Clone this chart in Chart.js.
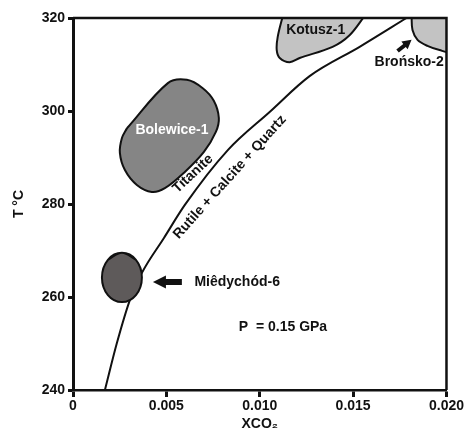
<!DOCTYPE html>
<html>
<head>
<meta charset="utf-8">
<script src="https://cdn.jsdelivr.net/npm/chart.js@4.4.0/dist/chart.umd.min.js"></script>
<style>
html, body { margin: 0; padding: 0; background: #fff; }
</style>
</head>
<body>
<canvas id="PhaseChart" width="465" height="435"></canvas>
<script>
// axis ticks
var xTicks = [0, 0.005, 0.010, 0.015, 0.020];
var xTickLabels = ['0', '0.005', '0.010', '0.015', '0.020'];
var tTicks = [240, 260, 280, 300, 320];

// reaction curve  Titanite = Rutile + Calcite + Quartz
var curveX = [0.00171, 0.00235, 0.00305, 0.00369, 0.00487, 0.00599, 0.00829, 0.01053, 0.01267, 0.01535, 0.01786];
var curveT = [240, 250.1, 259.4, 265.2, 272.7, 279.8, 291.6, 299.8, 307.5, 313.8, 320];

// sample fields
var bolewiceX = [0.00289, 0.00508, 0.00610, 0.00695, 0.00754, 0.00781, 0.00765, 0.00701, 0.00599, 0.00492, 0.00422, 0.00342, 0.00278, 0.00251, 0.00262, 0.00289];
var bolewiceT = [296.3, 306.0, 306.7, 304.9, 302.2, 298.5, 295.5, 291.2, 286.9, 283.4, 282.6, 284.1, 287.3, 291.0, 294.2, 296.3];

var kotuszX = [0.01123, 0.01096, 0.01091, 0.01107, 0.01160, 0.01214, 0.01390, 0.01481, 0.01561];
var kotuszT = [320.4, 315.9, 313.1, 311.4, 310.5, 311.4, 313.8, 316.3, 320.4];

var bronskoX = [0.01813, 0.01818, 0.01845, 0.01898, 0.01963, 0.02011, 0.02011];
var bronskoT = [320.4, 317.4, 315.3, 314.0, 313.1, 312.9, 320.4];

// outline goes round once, with one point of overlap at each end so the join is smooth
var miedychodX = [0.00187, 0.00262, 0.00337, 0.00369, 0.00337, 0.00262, 0.00187, 0.00155, 0.00187, 0.00262, 0.00337];
var miedychodT = [268.0, 269.5, 268.0, 264.2, 260.4, 258.9, 260.4, 264.2, 268.0, 269.5, 268.0];

// labels: text, x, T, colour, align, rotation (deg)
var labels = [
    ['Kotusz-1', 0.0130, 317.4, '#111', 'center', 0],
    ['Brońsko-2', 0.0180, 310.5, '#111', 'center', 0],
    ['Bolewice-1', 0.0053, 295.9, '#fff', 'center', 0],
    ['Miêdychód-6', 0.0065, 263.2, '#111', 'left', 0],
    ['P  = 0.15 GPa', 0.00888, 253.5, '#111', 'left', 0],
    ['Titanite', 0.00642, 286.5, '#111', 'center', -43],
    ['Rutile + Calcite + Quartz', 0.0084, 285.8, '#111', 'center', -48]
];

// arrows: tail x, tail T, tip x, tip T, shaft half width, head half width, head length
var arrows = [
    [0.00583, 263.2, 0.00428, 263.2, 3, 6.5, 13],
    [0.01738, 312.9, 0.01813, 315.3, 2, 5, 9]
];

var FONT = '"Liberation Sans", Arial, sans-serif';

function pts(xs, ys) {
    return xs.map(function (x, i) { return { x: x, y: ys[i] }; });
}

function field(data, colour, tension) {
    return {
        data: data,
        showLine: true,
        fill: 'shape',
        backgroundColor: colour,
        borderColor: '#111',
        borderWidth: 2,
        pointRadius: 0,
        tension: tension,
        clip: 0
    };
}

var annotate = {
    id: 'annotate',
    afterDatasetsDraw: function (chart) {
        var ctx = chart.ctx;
        var sx = chart.scales.x, sy = chart.scales.y;
        var a = chart.chartArea;

        // frame top and right
        ctx.save();
        ctx.strokeStyle = '#111';
        ctx.lineWidth = 2.5;
        ctx.beginPath();
        ctx.moveTo(a.left, a.top);
        ctx.lineTo(a.right, a.top);
        ctx.lineTo(a.right, a.bottom);
        ctx.stroke();
        ctx.restore();

        labels.forEach(function (l) {
            ctx.save();
            ctx.font = 'bold 14px ' + FONT;
            ctx.fillStyle = l[3];
            ctx.textAlign = l[4];
            ctx.textBaseline = 'middle';
            ctx.translate(sx.getPixelForValue(l[1]), sy.getPixelForValue(l[2]));
            ctx.rotate(l[5] * Math.PI / 180);
            ctx.fillText(l[0], 0, 0);
            ctx.restore();
        });

        arrows.forEach(function (ar) {
            var x0 = sx.getPixelForValue(ar[0]), y0 = sy.getPixelForValue(ar[1]);
            var x1 = sx.getPixelForValue(ar[2]), y1 = sy.getPixelForValue(ar[3]);
            var ang = Math.atan2(y1 - y0, x1 - x0);
            var len = Math.hypot(x1 - x0, y1 - y0);
            var sw = ar[4], hw = ar[5], hl = ar[6];
            ctx.save();
            ctx.translate(x0, y0);
            ctx.rotate(ang);
            ctx.fillStyle = '#111';
            ctx.beginPath();
            ctx.moveTo(0, -sw);
            ctx.lineTo(len - hl, -sw);
            ctx.lineTo(len - hl, -hw);
            ctx.lineTo(len, 0);
            ctx.lineTo(len - hl, hw);
            ctx.lineTo(len - hl, sw);
            ctx.lineTo(0, sw);
            ctx.closePath();
            ctx.fill();
            ctx.restore();
        });
    }
};

var ctx = document.getElementById('PhaseChart').getContext('2d');
var myChart = new Chart(ctx, {
    type: 'scatter',
    data: {
        datasets: [
            field(pts(bolewiceX, bolewiceT), '#858585', 0.35),
            field(pts(kotuszX, kotuszT), '#c3c3c3', 0.35),
            field(pts(bronskoX, bronskoT), '#c3c3c3', 0.35),
            field(pts(miedychodX, miedychodT), '#5e5a5a', 0.4),
            {
                data: pts(curveX, curveT),
                showLine: true,
                fill: false,
                borderColor: '#111',
                borderWidth: 2,
                pointRadius: 0,
                cubicInterpolationMode: 'monotone',
                clip: 0
            }
        ]
    },
    options: {
        responsive: false,
        animation: false,
        devicePixelRatio: 1,
        layout: { padding: { top: 18, right: 18, left: 0, bottom: 0 } },
        plugins: { legend: { display: false }, tooltip: { enabled: false } },
        scales: {
            x: {
                type: 'linear',
                min: 0,
                max: 0.020,
                afterBuildTicks: function (axis) { axis.ticks = xTicks.map(function (v) { return { value: v }; }); },
                afterFit: function (axis) { axis.height = 45; },
                ticks: {
                    color: '#111',
                    padding: 1,
                    maxRotation: 0,
                    font: { family: FONT, size: 14, weight: 'bold' },
                    callback: function (v, i) { return xTickLabels[i]; }
                },
                grid: { drawOnChartArea: false, drawTicks: true, tickLength: 7, tickWidth: 3, tickColor: '#111' },
                border: { display: true, color: '#111', width: 2.5 },
                title: {
                    display: true,
                    text: 'XCO₂',
                    color: '#111',
                    padding: { top: 0, bottom: 2 },
                    font: { family: FONT, size: 14, weight: 'bold' }
                }
            },
            y: {
                type: 'linear',
                min: 240,
                max: 320,
                afterBuildTicks: function (axis) { axis.ticks = tTicks.map(function (v) { return { value: v }; }); },
                afterFit: function (axis) { axis.width = 73; },
                ticks: {
                    color: '#111',
                    padding: 3,
                    font: { family: FONT, size: 14, weight: 'bold' }
                },
                grid: { drawOnChartArea: false, drawTicks: true, tickLength: 5, tickWidth: 3, tickColor: '#111' },
                border: { display: true, color: '#111', width: 3 },
                title: {
                    display: true,
                    text: 'T °C',
                    color: '#111',
                    padding: { top: 11, bottom: 0 },
                    font: { family: FONT, size: 14, weight: 'bold' }
                }
            }
        }
    },
    plugins: [annotate]
});
</script>
</body>
</html>
